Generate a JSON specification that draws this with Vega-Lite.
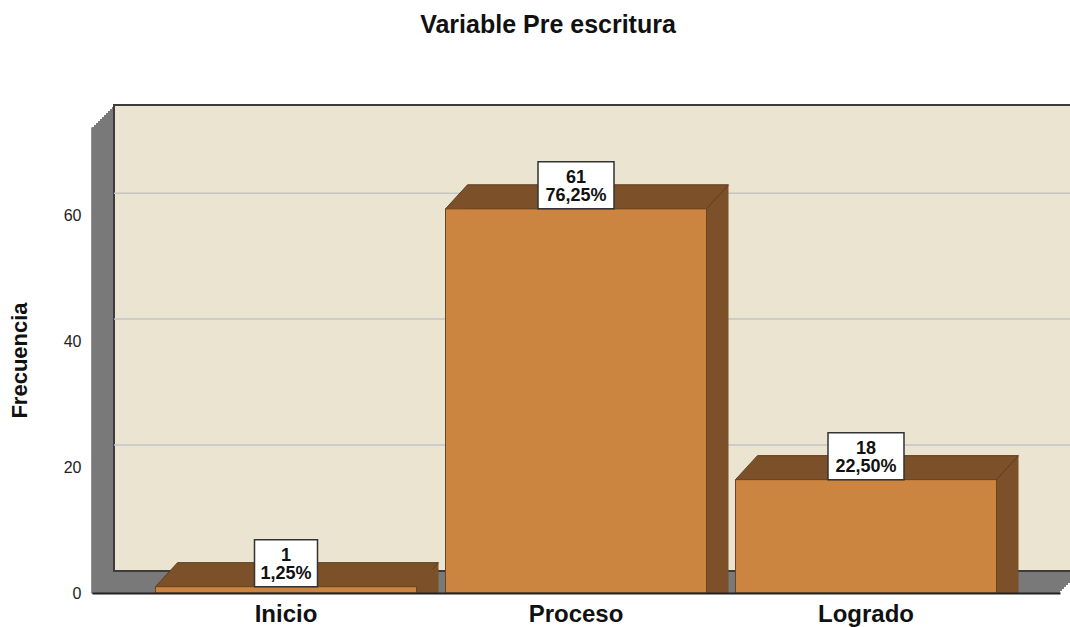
{
  "$schema": "https://vega.github.io/schema/vega-lite/v6.json",
  "width": 968,
  "height": 466,
  "autosize": "none",
  "padding": {"left": 92, "top": 127, "right": 10, "bottom": 34},
  "background": "white",
  "title": {
    "text": "Variable Pre escritura",
    "font": "Liberation Sans",
    "fontSize": 25,
    "fontWeight": "bold",
    "color": "#111111",
    "anchor": "middle",
    "frame": "group",
    "dx": -28,
    "offset": 46,
    "baseline": "alphabetic"
  },
  "datasets": {
    "frecuencias": [
      {"categoria": "Inicio", "frecuencia": 1, "porcentaje": "1,25%"},
      {"categoria": "Proceso", "frecuencia": 61, "porcentaje": "76,25%"},
      {"categoria": "Logrado", "frecuencia": 18, "porcentaje": "22,50%"}
    ],
    "rejilla": [{"v": 20}, {"v": 40}, {"v": 60}]
  },
  "data": {"name": "frecuencias"},
  "config": {
    "view": {"stroke": null},
    "font": "Liberation Sans",
    "axisY": {
      "grid": false,
      "ticks": false,
      "labelPadding": 11,
      "labelFontSize": 16,
      "labelColor": "#222222",
      "domainColor": "#222222",
      "domainWidth": 2,
      "titleFontSize": 22,
      "titleFontWeight": "bold",
      "titleColor": "#111111",
      "titlePadding": 32
    },
    "axisX": {
      "grid": false,
      "ticks": false,
      "labelAngle": 0,
      "labelFontSize": 24,
      "labelFontWeight": "bold",
      "labelColor": "#111111",
      "labelPadding": 9,
      "domainColor": "#222222",
      "domainWidth": 2
    }
  },
  "layer": [
    {"mark": {"type": "rect", "fill": "#797979", "xOffset": 0, "x2Offset": 0, "yOffset": 0, "y2Offset": 0}, "encoding": {"x": {"value": 0}, "x2": {"value": {"expr": "width"}}, "y": {"datum": 0, "type": "quantitative", "title": "Frecuencia", "scale": {"domain": [0, 74], "nice": false}, "axis": {"values": [0, 20, 40, 60]}}, "y2": {"datum": 74}}},
    {"mark": {"type": "rect", "fill": "#797979", "xOffset": 2, "x2Offset": 2, "yOffset": -2, "y2Offset": -2}, "encoding": {"x": {"value": 0}, "x2": {"value": {"expr": "width"}}, "y": {"datum": 0, "type": "quantitative", "title": "Frecuencia"}, "y2": {"datum": 74}}},
    {"mark": {"type": "rect", "fill": "#797979", "xOffset": 4, "x2Offset": 4, "yOffset": -4, "y2Offset": -4}, "encoding": {"x": {"value": 0}, "x2": {"value": {"expr": "width"}}, "y": {"datum": 0, "type": "quantitative", "title": "Frecuencia"}, "y2": {"datum": 74}}},
    {"mark": {"type": "rect", "fill": "#797979", "xOffset": 6, "x2Offset": 6, "yOffset": -6, "y2Offset": -6}, "encoding": {"x": {"value": 0}, "x2": {"value": {"expr": "width"}}, "y": {"datum": 0, "type": "quantitative", "title": "Frecuencia"}, "y2": {"datum": 74}}},
    {"mark": {"type": "rect", "fill": "#797979", "xOffset": 8, "x2Offset": 8, "yOffset": -8, "y2Offset": -8}, "encoding": {"x": {"value": 0}, "x2": {"value": {"expr": "width"}}, "y": {"datum": 0, "type": "quantitative", "title": "Frecuencia"}, "y2": {"datum": 74}}},
    {"mark": {"type": "rect", "fill": "#797979", "xOffset": 10, "x2Offset": 10, "yOffset": -10, "y2Offset": -10}, "encoding": {"x": {"value": 0}, "x2": {"value": {"expr": "width"}}, "y": {"datum": 0, "type": "quantitative", "title": "Frecuencia"}, "y2": {"datum": 74}}},
    {"mark": {"type": "rect", "fill": "#797979", "xOffset": 12, "x2Offset": 12, "yOffset": -12, "y2Offset": -12}, "encoding": {"x": {"value": 0}, "x2": {"value": {"expr": "width"}}, "y": {"datum": 0, "type": "quantitative", "title": "Frecuencia"}, "y2": {"datum": 74}}},
    {"mark": {"type": "rect", "fill": "#797979", "xOffset": 14, "x2Offset": 14, "yOffset": -14, "y2Offset": -14}, "encoding": {"x": {"value": 0}, "x2": {"value": {"expr": "width"}}, "y": {"datum": 0, "type": "quantitative", "title": "Frecuencia"}, "y2": {"datum": 74}}},
    {"mark": {"type": "rect", "fill": "#797979", "xOffset": 16, "x2Offset": 16, "yOffset": -16, "y2Offset": -16}, "encoding": {"x": {"value": 0}, "x2": {"value": {"expr": "width"}}, "y": {"datum": 0, "type": "quantitative", "title": "Frecuencia"}, "y2": {"datum": 74}}},
    {"mark": {"type": "rect", "fill": "#797979", "xOffset": 18, "x2Offset": 18, "yOffset": -18, "y2Offset": -18}, "encoding": {"x": {"value": 0}, "x2": {"value": {"expr": "width"}}, "y": {"datum": 0, "type": "quantitative", "title": "Frecuencia"}, "y2": {"datum": 74}}},
    {"mark": {"type": "rect", "fill": "#797979", "xOffset": 20, "x2Offset": 20, "yOffset": -20, "y2Offset": -20}, "encoding": {"x": {"value": 0}, "x2": {"value": {"expr": "width"}}, "y": {"datum": 0, "type": "quantitative", "title": "Frecuencia"}, "y2": {"datum": 74}}},
    {"mark": {"type": "rect", "fill": "#EAE4D1", "stroke": "#3c3c3c", "strokeWidth": 2, "xOffset": 22, "x2Offset": 22, "yOffset": -22, "y2Offset": -22}, "encoding": {"x": {"value": 0}, "x2": {"value": {"expr": "width"}}, "y": {"datum": 0, "type": "quantitative", "title": "Frecuencia"}, "y2": {"datum": 74}}},
    {
      "data": {"name": "rejilla"},
      "mark": {"type": "rule", "stroke": "#c4c4c4", "strokeWidth": 1.5, "xOffset": 22, "x2Offset": 22, "yOffset": -22},
      "encoding": {"x": {"value": 0}, "x2": {"value": {"expr": "width"}}, "y": {"field": "v", "type": "quantitative", "title": "Frecuencia"}}
    },
    {
      "mark": {"type": "rect", "fill": "#7C5129", "xOffset": 22, "x2Offset": 22, "yOffset": -24, "y2Offset": -24},
      "encoding": {
        "x": {"field": "categoria", "type": "nominal", "sort": null, "title": null, "scale": {"paddingInner": 0.1, "paddingOuter": 0.219}},
        "y": {"field": "frecuencia", "type": "quantitative", "title": "Frecuencia"}
      }
    },
    {
      "mark": {"type": "point", "shape": "M-130.5,0L-108.5,-24L152.5,-24L130.5,0Z", "size": 4, "filled": true, "fill": "#7C5129", "opacity": 1, "stroke": "#5e3d1e", "strokeWidth": 1},
      "encoding": {
        "x": {"field": "categoria", "type": "nominal", "sort": null, "title": null},
        "y": {"field": "frecuencia", "type": "quantitative", "title": "Frecuencia"}
      }
    },
    {
      "mark": {"type": "point", "shape": "M130.5,0L130.5,-24L152.5,-24Z", "size": 4, "filled": true, "fill": "#7C5129", "opacity": 1, "strokeWidth": 0},
      "encoding": {
        "x": {"field": "categoria", "type": "nominal", "sort": null, "title": null},
        "y": {"datum": 0, "type": "quantitative", "title": "Frecuencia"}
      }
    },
    {
      "mark": {"type": "rect", "fill": "#CC8540", "stroke": "#6a4520", "strokeWidth": 1},
      "encoding": {
        "x": {"field": "categoria", "type": "nominal", "sort": null, "title": null},
        "y": {"field": "frecuencia", "type": "quantitative", "title": "Frecuencia"}
      }
    },
    {
      "transform": [{"filter": "datum.categoria !== 'Inicio'"}],
      "mark": {"type": "point", "shape": "M-38,-47L38,-47L38,0L-38,0Z", "size": 4, "filled": true, "fill": "white", "opacity": 1, "stroke": "#333333", "strokeWidth": 1.5},
      "encoding": {
        "x": {"field": "categoria", "type": "nominal", "sort": null, "title": null},
        "y": {"field": "frecuencia", "type": "quantitative", "title": "Frecuencia"}
      }
    },
    {
      "transform": [{"filter": "datum.categoria === 'Inicio'"}],
      "mark": {"type": "point", "shape": "M-31.5,-47L31.5,-47L31.5,0L-31.5,0Z", "size": 4, "filled": true, "fill": "white", "opacity": 1, "stroke": "#333333", "strokeWidth": 1.5},
      "encoding": {
        "x": {"field": "categoria", "type": "nominal", "sort": null, "title": null},
        "y": {"field": "frecuencia", "type": "quantitative", "title": "Frecuencia"}
      }
    },
    {
      "mark": {"type": "text", "dy": -31, "baseline": "middle", "align": "center", "fontSize": 18, "fontWeight": "bold", "color": "#111111"},
      "encoding": {
        "x": {"field": "categoria", "type": "nominal", "sort": null, "title": null},
        "y": {"field": "frecuencia", "type": "quantitative", "title": "Frecuencia"},
        "text": {"field": "frecuencia", "type": "quantitative"}
      }
    },
    {
      "mark": {"type": "text", "dy": -13, "baseline": "middle", "align": "center", "fontSize": 18, "fontWeight": "bold", "color": "#111111"},
      "encoding": {
        "x": {"field": "categoria", "type": "nominal", "sort": null, "title": null},
        "y": {"field": "frecuencia", "type": "quantitative", "title": "Frecuencia"},
        "text": {"field": "porcentaje", "type": "nominal"}
      }
    }
  ]
}
